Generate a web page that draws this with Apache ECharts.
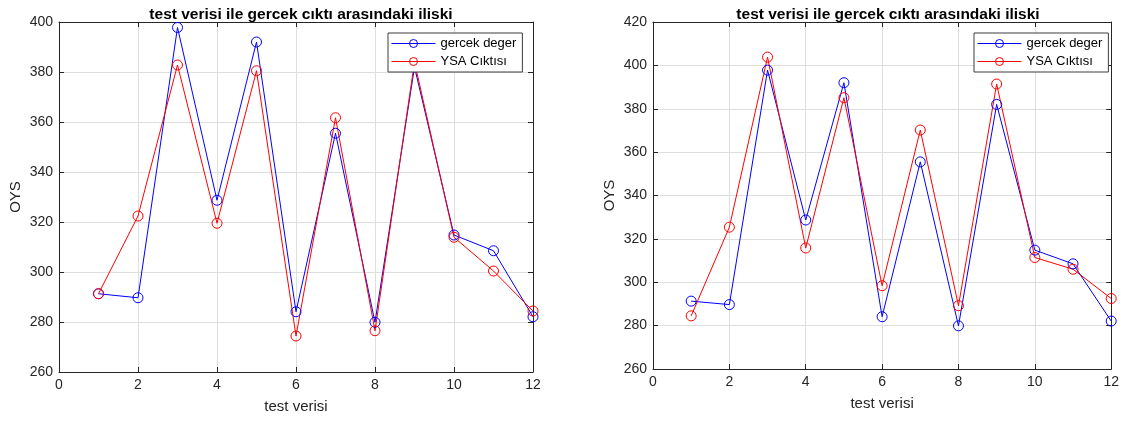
<!doctype html>
<html>
<head>
<meta charset="utf-8">
<title>test verisi ile gercek cikti</title>
<script src="https://cdn.jsdelivr.net/npm/echarts@6/dist/echarts.min.js"></script>
<style>
    body{margin:0;background:#fff;}
    #main{width:1122px;height:421px;}
</style>
</head>
<body>
<div id="main"></div>
<script>
    // veri: test indeksleri ve degerler
    var testIdx = [1, 2, 3, 4, 5, 6, 7, 8, 9, 10, 11, 12];
    var gercek = [291.3, 289.7, 397.8, 328.7, 392.0, 284.1, 355.5, 279.9, 382.0, 314.8, 308.5, 282.1];
    var ysaSol = [291.3, 322.4, 382.8, 319.5, 380.5, 274.4, 361.7, 276.5, 384.0, 313.9, 300.4, 284.4];
    var ysaSag = [284.5, 325.4, 403.8, 315.8, 385.1, 298.4, 370.2, 289.2, 391.4, 311.4, 306.0, 292.5];
    var xTicks = [0, 12, 2];
    var ySol = [260, 400, 20];
    var ySag = [260, 420, 20];

    var font = 'Arial, "Liberation Sans", sans-serif';
    var dark = '#262626';

    function pairs(v){
        return testIdx.map(function(x, i){ return [x, v[i]]; });
    }

    var grids = [
        {left: 59, top: 22, width: 474, height: 350},
        {left: 653, top: 22, width: 460, height: 347}
    ];

    function xAx(g, pos, main){
        return {
            type: 'value', gridIndex: g, position: pos,
            min: xTicks[0], max: xTicks[1], interval: xTicks[2],
            name: main ? 'test verisi' : '', nameLocation: 'middle', nameGap: 27,
            nameTextStyle: {fontFamily: font, fontSize: 15, color: dark},
            axisLine: {show: true, onZero: false, lineStyle: {color: dark, width: 1}},
            axisTick: {show: true, inside: true, length: 5, lineStyle: {color: dark}},
            axisLabel: {show: main, margin: 6, fontFamily: font, fontSize: 14, color: dark},
            splitLine: {show: main, lineStyle: {color: '#dedede', width: 1}}
        };
    }
    function yAx(g, pos, main, r){
        return {
            type: 'value', gridIndex: g, position: pos,
            min: r[0], max: r[1], interval: r[2],
            name: main ? 'OYS' : '', nameLocation: 'middle', nameGap: 36,
            nameTextStyle: {fontFamily: font, fontSize: 15, color: dark},
            axisLine: {show: true, onZero: false, lineStyle: {color: dark, width: 1}},
            axisTick: {show: true, inside: true, length: 5, lineStyle: {color: dark}},
            axisLabel: {show: main, margin: 6, fontFamily: font, fontSize: 14, color: dark},
            splitLine: {show: main, lineStyle: {color: '#dedede', width: 1}}
        };
    }

    function seri(name, data, color, xi, yi){
        return {
            name: name, type: 'line', xAxisIndex: xi, yAxisIndex: yi,
            data: pairs(data),
            symbol: 'circle', symbolSize: 10,
            lineStyle: {color: color, width: 1},
            itemStyle: {color: 'rgba(0,0,0,0)', borderColor: color, borderWidth: 1},
            emphasis: {disabled: true},
            animation: false
        };
    }

    function legendAt(left){
        return {
            left: left, top: 33, orient: 'vertical',
            backgroundColor: '#fff', borderColor: '#3c3c3c', borderWidth: 1,
            padding: [4, 6, 4, 3], itemGap: 5,
            itemWidth: 44, itemHeight: 10,
            lineStyle: {width: 1},
            itemStyle: {borderWidth: 1},
            textStyle: {fontFamily: font, fontSize: 13, color: '#000'},
            data: ['gercek deger', 'YSA Cıktısı'],
            selectedMode: false, z: 10
        };
    }

    var baslik = 'test verisi ile gercek cıktı arasındaki iliski';

    var myChart = echarts.init(document.getElementById('main'));
    var option = {
        backgroundColor: '#fff',
        animation: false,
        title: [
            {text: baslik, left: 296, top: 2, textAlign: 'center',
             textStyle: {fontFamily: font, fontSize: 15.5, fontWeight: 'bold', color: '#000'}},
            {text: baslik, left: 883, top: 2, textAlign: 'center',
             textStyle: {fontFamily: font, fontSize: 15.5, fontWeight: 'bold', color: '#000'}}
        ],
        legend: [legendAt(388), legendAt(974)],
        grid: grids,
        xAxis: [xAx(0, 'bottom', true), xAx(0, 'top', false), xAx(1, 'bottom', true), xAx(1, 'top', false)],
        yAxis: [yAx(0, 'left', true, ySol), yAx(0, 'right', false, ySol), yAx(1, 'left', true, ySag), yAx(1, 'right', false, ySag)],
        series: [
            seri('gercek deger', gercek, '#0000ff', 0, 0),
            seri('YSA Cıktısı', ysaSol, '#ff0000', 0, 0),
            seri('gercek deger', gercek, '#0000ff', 2, 2),
            seri('YSA Cıktısı', ysaSag, '#ff0000', 2, 2)
        ]
    };
    myChart.setOption(option);
</script>
</body>
</html>
